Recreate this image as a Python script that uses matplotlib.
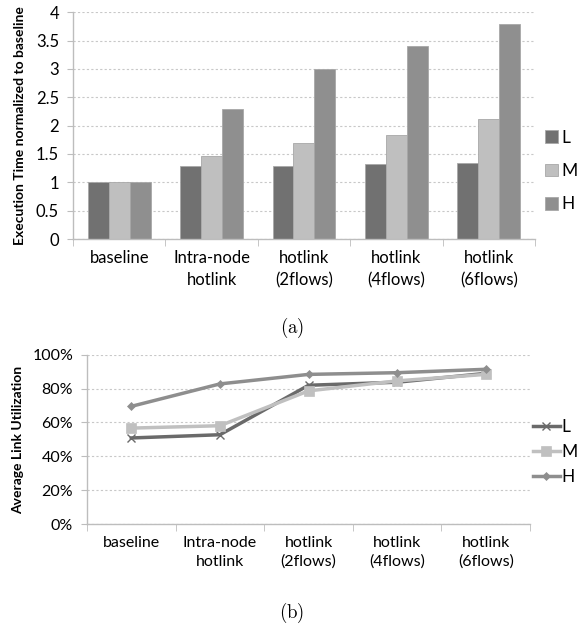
import numpy as np
import matplotlib
matplotlib.use('Agg')
import matplotlib.pyplot as plt
from matplotlib.ticker import FixedLocator, PercentFormatter

plt.rcParams['font.family'] = ['Lato', 'DejaVu Sans']
plt.rcParams['mathtext.fontset'] = 'cm'

categories = ['baseline', 'Intra-node\nhotlink', 'hotlink\n(2flows)',
              'hotlink\n(4flows)', 'hotlink\n(6flows)']
levels = ['L', 'M', 'H']

# (a) execution time normalized to baseline
exec_L = [1.0, 1.29, 1.29, 1.33, 1.34]
exec_M = [1.0, 1.46, 1.70, 1.84, 2.12]
exec_H = [1.0, 2.29, 3.00, 3.41, 3.80]

# (b) average link utilization (%)
util_L = [50.9, 52.8, 81.9, 83.7, 88.9]
util_M = [56.7, 58.1, 78.6, 84.5, 88.3]
util_H = [69.5, 82.7, 88.3, 89.3, 91.3]

bar_colors = ['#717171', '#bfbfbf', '#8f8f8f']
line_colors = ['#6a6a6a', '#c0c0c0', '#8e8e8e']
markers = ['x', 's', 'D']
marker_sizes = [6, 7, 4.5]
axis_gray = '#bdbdbd'


def style_axes(ax):
    for s in ['top', 'right']:
        ax.spines[s].set_visible(False)
    for s in ['left', 'bottom']:
        ax.spines[s].set_color(axis_gray)
        ax.spines[s].set_linewidth(1.0)
    ax.set_axisbelow(True)
    ax.yaxis.grid(True, color='#c8c8c8', linestyle=(0, (2, 2)), linewidth=0.8)
    ax.tick_params(axis='y', length=4, color=axis_gray, pad=6)
    ax.tick_params(axis='x', which='major', length=0, pad=8)
    ax.tick_params(axis='x', which='minor', length=5, color=axis_gray)
    x = np.arange(len(categories))
    ax.set_xticks(x)
    ax.set_xticklabels(categories, linespacing=1.45)
    ax.xaxis.set_minor_locator(FixedLocator(np.arange(-0.5, len(categories), 1.0)))
    ax.set_xlim(-0.5, len(categories) - 0.5)


fig = plt.figure(figsize=(5.84, 6.27), dpi=100)

# ---- (a) bars
ax1 = fig.add_axes([0.125, 0.6188, 0.791, 0.3616])
style_axes(ax1)
x = np.arange(len(categories))
w = 0.227
for i, (vals, c, lab) in enumerate(zip([exec_L, exec_M, exec_H], bar_colors, levels)):
    ax1.bar(x + (i - 1) * w, vals, w, color=c, edgecolor='#a8a8a8',
            linewidth=0.6, label=lab)
ax1.set_ylim(0, 4)
ax1.set_yticks(np.arange(0, 4.01, 0.5))
ax1.set_yticklabels(['0', '0.5', '1', '1.5', '2', '2.5', '3', '3.5', '4'])
ax1.tick_params(labelsize=12)
ax1.set_ylabel('Execution Time normalized to baseline', fontsize=10,
               fontweight='bold', labelpad=7)
ax1.legend(loc='center left', bbox_to_anchor=(545 / 584, 1 - 171 / 627),
           bbox_transform=fig.transFigure, borderpad=0, borderaxespad=0,
           frameon=False, fontsize=12.5, handlelength=0.75, handleheight=0.75,
           handletextpad=0.2, labelspacing=1.0)
fig.text(0.5, 1 - 328 / 627, r'$\mathrm{(a)}$', ha='center', va='center', fontsize=13.5)

# ---- (b) lines
ax2 = fig.add_axes([0.149, 0.1635, 0.7586, 0.2711])
style_axes(ax2)
for vals, c, m, ms, lab in zip([util_L, util_M, util_H], line_colors, markers,
                               marker_sizes, levels):
    ax2.plot(x, vals, color=c, linewidth=2.5, marker=m, markersize=ms,
             markeredgewidth=1.0 if m == 'x' else 0.5, label=lab)
ax2.set_ylim(0, 100)
ax2.set_yticks(np.arange(0, 101, 20))
ax2.yaxis.set_major_formatter(PercentFormatter(decimals=0))
ax2.tick_params(labelsize=11.5)
ax2.set_ylabel('Average Link Utilization', fontsize=10, fontweight='bold', labelpad=6)
ax2.legend(loc='center left', bbox_to_anchor=(533 / 584, 1 - 452 / 627),
           bbox_transform=fig.transFigure, borderpad=0, borderaxespad=0,
           frameon=False, fontsize=12.5, handlelength=1.55, handletextpad=0.1,
           labelspacing=0.5)
fig.text(0.5, 1 - 613 / 627, r'$\mathrm{(b)}$', ha='center', va='center', fontsize=13.5)

fig.savefig('out.png', dpi=100)
